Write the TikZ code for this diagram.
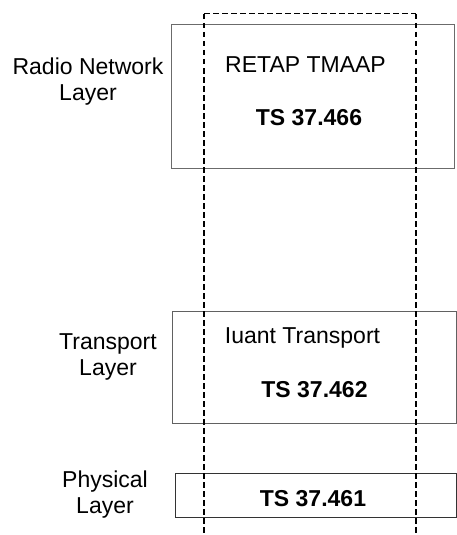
\documentclass[tikz,border=0pt]{standalone}
\usepackage{fontspec}
\setmainfont{Liberation Sans}
\begin{document}
\begin{tikzpicture}[x=1pt,y=-1pt,
  layerbox/.style={draw=#1,line width=1.3pt},
  label/.style={font=\fontsize{23}{26}\selectfont,inner sep=0pt,align=center},
  boxtext/.style={font=\fontsize{23}{26}\selectfont,inner sep=0pt,anchor=base},
  boldtext/.style={font=\fontsize{23}{26}\selectfont\bfseries,inner sep=0pt,anchor=base},
  divider/.style={line width=2pt,dash pattern=on 5.5pt off 3.5pt},
  dividertop/.style={line width=1pt,dash pattern=on 5.5pt off 3.5pt}]
\useasboundingbox (0,0) rectangle (457,535);
% layer boxes
\node[layerbox=black!58,inner sep=0pt,minimum width=283pt,minimum height=144pt,anchor=north west] (rnl) at (171,24) {};
\node[layerbox=black!62,inner sep=0pt,minimum width=284pt,minimum height=112pt,anchor=north west] (tl) at (172,311) {};
\node[layerbox=black!80,inner sep=0pt,minimum width=281pt,minimum height=44pt,anchor=north west] (pl) at (175,473) {};
% dashed protocol frame
\coordinate (dtl) at (204,14);
\coordinate (dtr) at (416,14);
\coordinate (dbl) at (204,535);
\coordinate (dbr) at (416,535);
\draw[dividertop] (dtl) -- (dtr);
\draw[divider] (dtl) -- (dbl);
\draw[divider] (dtr) -- (dbr);
% labels
\node[label] (lrnl) at (88,82) {Radio Network\\Layer};
\node[label] (ltl) at (108,357) {Transport\\Layer};
\node[label] (lpl) at (105,495) {Physical\\Layer};
% box texts
\node[boxtext] (t1) at (305.5,72) {RETAP TMAAP};
\node[boldtext] (t2) at (309,125) {TS 37.466};
\node[boxtext] (t3) at (302.5,343) {Iuant Transport};
\node[boldtext] (t4) at (314.5,397) {TS 37.462};
\node[boldtext] (t5) at (313,506.5) {TS 37.461};
\end{tikzpicture}
\end{document}
